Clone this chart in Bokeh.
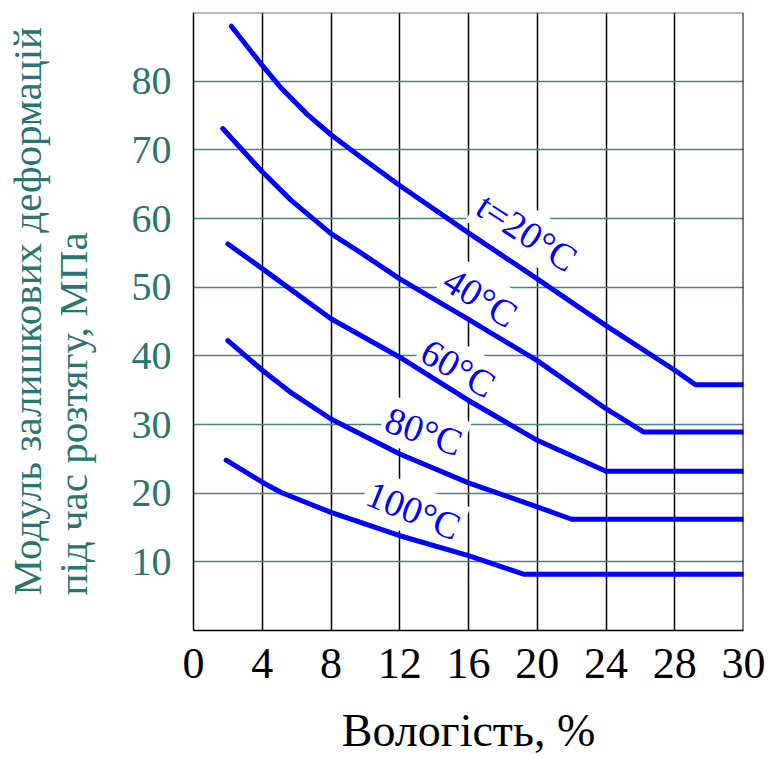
from bokeh.plotting import figure
from bokeh.models import Label, FixedTicker, Range1d, Title, Span
from bokeh.embed import file_html
from bokeh.resources import INLINE

# ---- data (moisture %, modulus MPa); axis is linear 4 %/cell, last cell labelled 30 ----
x20 = [2.2, 4.0, 5.1, 6.6, 8.0, 9.7, 12.0, 16.0, 20.0, 24.0, 28.0, 29.2, 32.0]
y20 = [88.0, 82.3, 79.0, 75.2, 72.2, 69.0, 64.8, 57.9, 51.2, 44.4, 37.9, 35.8, 35.8]
x40 = [1.7, 4.0, 5.7, 8.0, 9.5, 12.0, 16.0, 20.0, 24.0, 26.2, 32.0]
y40 = [73.1, 66.8, 62.6, 57.8, 55.4, 51.2, 45.3, 39.3, 32.3, 28.9, 28.9]
x60 = [2.0, 4.0, 8.0, 12.0, 16.0, 20.0, 24.0, 32.0]
y60 = [56.3, 52.7, 45.4, 39.8, 33.5, 27.7, 23.2, 23.2]
x80 = [2.0, 4.0, 5.7, 8.0, 12.0, 16.0, 20.0, 22.0, 32.0]
y80 = [42.2, 37.9, 34.6, 30.8, 25.7, 21.5, 18.0, 16.2, 16.2]
x100 = [1.9, 4.0, 5.1, 8.0, 12.0, 16.0, 19.2, 32.0]
y100 = [24.8, 21.6, 20.1, 17.2, 13.8, 10.9, 8.2, 8.2]

x_ticks = [0, 4, 8, 12, 16, 20, 24, 28, 32]
x_tick_labels = ["0", "4", "8", "12", "16", "20", "24", "28", "30"]
y_ticks = [0, 10, 20, 30, 40, 50, 60, 70, 80, 90]
y_tick_labels = ["", "10", "20", "30", "40", "50", "60", "70", "80", ""]

curve_labels = ["t=20°C", "40°C", "60°C", "80°C", "100°C"]

x_title = "Вологість, %"
y_title_1 = "Модуль залишкових деформацій"
y_title_2 = "під час розтягу, МПа"

TEAL_TXT = "#2a756d"
TEAL_GRID = "#4a857f"
BLUE = "#0000ff"
FONT = "Liberation Serif"

p = figure(width=777, height=758, x_range=Range1d(0, 32), y_range=Range1d(0, 90),
           output_backend="svg", toolbar_location=None,
           min_border_left=193, min_border_right=34, min_border_top=12, min_border_bottom=128)
p.outline_line_color = None
p.background_fill_color = "white"
p.border_fill_color = "white"

# axes
p.xaxis.ticker = FixedTicker(ticks=x_ticks)
p.xaxis.major_label_overrides = {t: l for t, l in zip(x_ticks, x_tick_labels)}
p.yaxis.ticker = FixedTicker(ticks=y_ticks)
p.yaxis.major_label_overrides = {t: l for t, l in zip(y_ticks, y_tick_labels)}
for ax in (p.xaxis, p.yaxis):
    ax.major_tick_line_color = None
    ax.minor_tick_line_color = None
    ax.major_label_text_font = FONT
    ax.axis_line_color = "black"
    ax.axis_line_width = 1.5
p.xaxis.major_label_text_font_size = "44px"
p.yaxis.major_label_text_font_size = "40px"
p.xaxis.major_label_text_color = "black"
p.yaxis.major_label_text_color = TEAL_TXT
p.xaxis.major_label_standoff = 12
p.yaxis.major_label_standoff = 16

p.xaxis.axis_label = x_title
p.xaxis.axis_label_text_font = FONT
p.xaxis.axis_label_text_font_size = "46px"
p.xaxis.axis_label_text_font_style = "normal"
p.xaxis.axis_label_text_color = "black"
p.xaxis.axis_label_standoff = 24

# spacer between the y tick labels and the two-line y title
p.yaxis.axis_label = " "
p.yaxis.axis_label_text_font_size = "1px"
p.yaxis.axis_label_standoff = 29

# grids
p.xgrid.ticker = FixedTicker(ticks=x_ticks)
p.xgrid.grid_line_color = "black"
p.xgrid.grid_line_width = 1.5
p.ygrid.ticker = FixedTicker(ticks=y_ticks)
p.ygrid.grid_line_color = TEAL_GRID
p.ygrid.grid_line_width = 1.5
p.add_layout(Span(location=32, dimension="height", line_color="black", line_width=2))
p.add_layout(Span(location=90, dimension="width", line_color=TEAL_GRID, line_width=2))

# y-axis title: two lines, left aligned at the bottom
ty = Title(text=y_title_1 + "\n" + y_title_2, align="left", offset=35, standoff=0,
           text_font=FONT, text_font_size="41px", text_font_style="normal",
           text_color=TEAL_TXT, text_line_height=1.0)
p.add_layout(ty, "left")

# curve labels (white background breaks the grid like the original)
lab_pos = [(19.4, 58.0, 33), (16.7, 48.5, 32), (15.4, 38.2, 30), (13.4, 29.0, 19), (12.8, 17.5, 22)]
for txt, (lx, ly, ang) in zip(curve_labels, lab_pos):
    p.add_layout(Label(x=lx, y=ly, text=txt, angle=-ang, angle_units="deg",
                       text_align="center", text_baseline="middle",
                       text_font=FONT, text_font_size="38px", text_color=BLUE,
                       background_fill_color="white", padding=3, level="underlay"))

for xs, ys in [(x20, y20), (x40, y40), (x60, y60), (x80, y80), (x100, y100)]:
    p.line(xs, ys, line_color=BLUE, line_width=5, line_join="round", line_cap="round")

open("out.html", "w").write(file_html(p, INLINE))
